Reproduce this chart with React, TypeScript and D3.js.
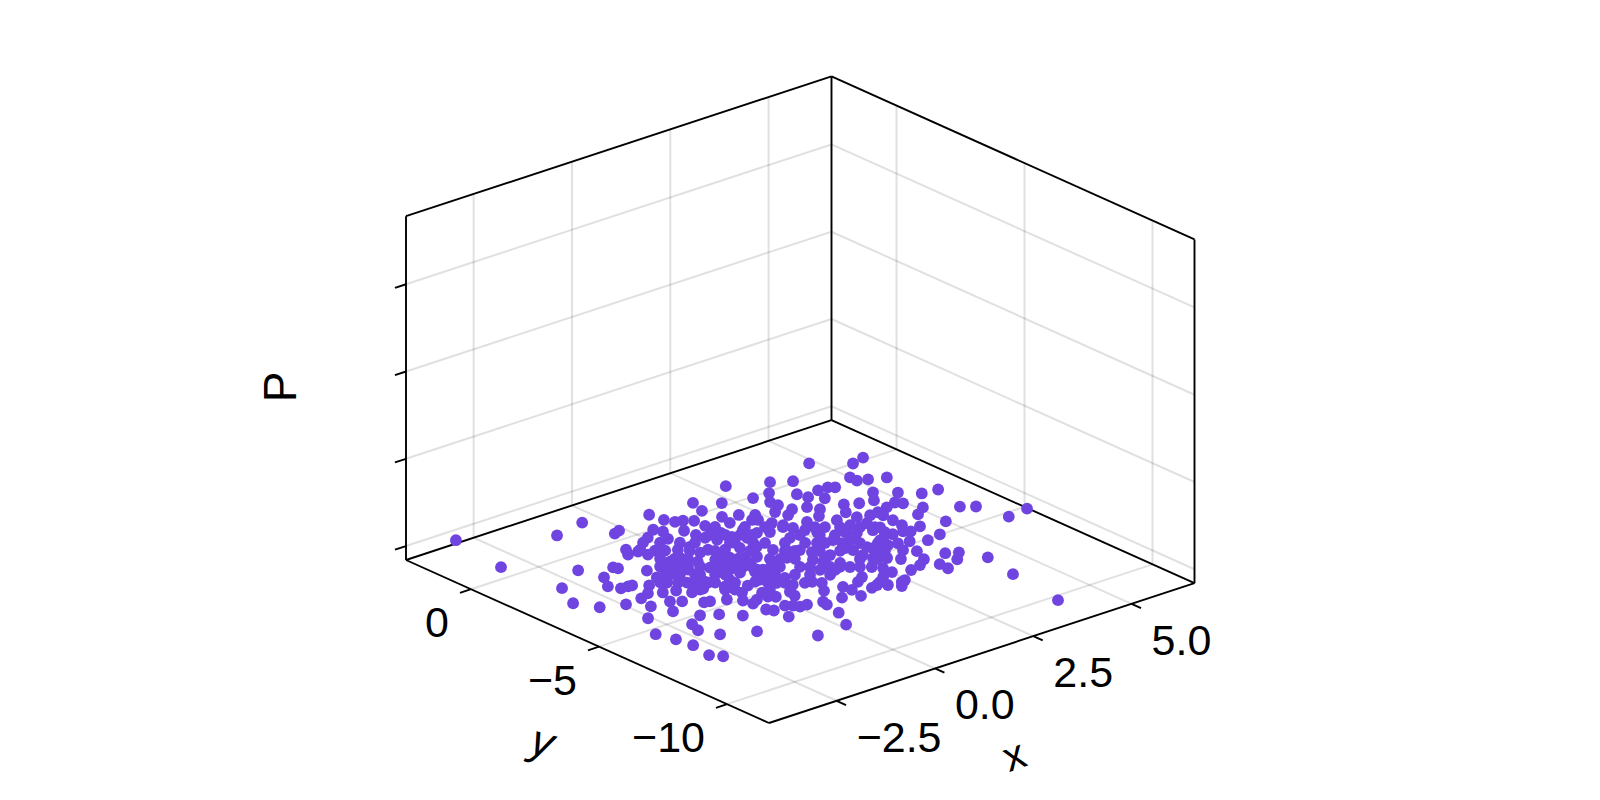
import { useEffect, useRef } from 'react';
import * as d3 from 'd3';

const xTicks = [-2.5, 0, 2.5, 5];
const yTicks = [0, -5, -10];
const zTicks = [0, 1, 2, 3];
const xTickLabels = ['−2.5', '0.0', '2.5', '5.0'];
const yTickLabels = ['0', '−5', '−10'];

// axis limits
const xLimits = [-4.22, 6.6];
const yLimits = [-11.64, 2.54];
const zLimits = [-0.16, 3.78];

const xValues = [
  -2.84, -3.06, -1.2, -0.41, -0.29, -0.13, -2.03, -2.85, -3.18, -2.92,
  -1.88, -2.12, -1.42, -1.38, -1.99, -1.82, -1.73, -2.44, -2.02, -0.65,
  -0.78, -0.54, -0.17, 0.06, -0.49, -1.03, -1.48, -1.76, -2.14, -2.57,
  0.83, 2.89, 2.9, 1.86, 2.28, 1.73, 1.83, 2.14, 1.75, 0.88,
  0.98, 1.13, 1.29, 1.29, 0.82, 0.4, 0.48, 0.32, -0.44, -0.11,
  0.11, 0.86, 0.9, 1.29, 1.01, 1.32, 1.71, 2.17, 1.51, 2.26,
  0.38, 0.55, 0.8, 1.08, 1.44, -0.4, -0.12, 0.01, 0.33, 0.61,
  0.83, 1.04, -0.55, -0.3, -0.01, 0.24, 0.51, 0.62, -2.98, -2.85,
  -2.79, -2.88, -2.71, -2.04, -1.4, -0.64, -2.23, -2.12, -1.71, -1.4,
  -1.09, -0.45, -1.98, -1.52, -1.7, -1.23, -1.11, -0.8, -0.55, -0.47,
  -0.15, -0.03, 0.04, 0.21, 0.54, 0.5, -0.55, -0.6, -0.06, -0.1,
  -0.36, 0.01, 0.32, 0.38, 0.89, 1.03, 1.14, -1.51, -1.25, -1.08,
  -0.79, -0.41, -0.35, -0.04, -1.11, -1.12, -0.83, -0.96, -0.52, 0.35,
  0.48, 0.76, 0.65, -0.54, -0.39, -0.38, -0.54, -0.11, 0.22, 0.27,
  0.52, 0.7, 0.87, 0.33, 1.05, 1.34, 1.54, 1.84, 0.74, 4.86,
  5.84, 5.5, 5.0, 5.0, 5.2, 3.67, 4.04, 3.3, 3.02, 3.67,
  3.74, 4.11, 4.35, 4.46, 3.95, 3.4, 3.52, 3.28, 4.85, 4.6,
  4.03, 3.8, 4.29, 3.8, 4.06, 4.27, 3.04, 2.77, 3.11, 2.86,
  2.38, 2.91, 3.01, 3.41, 3.44, 3.75, 2.36, 2.04, 2.46, 2.51,
  2.62, 2.73, 3.14, 3.28, 3.61, 1.82, 2.14, 1.36, 1.5, 1.44,
  1.89, 2.37, 2.7, 2.95, 2.97, 3.34, 3.55, 2.67, 2.65, 2.17,
  1.76, 2.06, 2.07, 2.91, 2.39, 2.52, 2.52, 1.92, 1.7, 0.77,
  0.2, 0.91, 1.32, 1.35, 0.95, 1.29, 1.71, 2.02, 2.04, 2.21,
  0.41, 0.13, 5.54, 5.21, 5.53, 5.9, 4.84, 4.93, 4.56, 5.09,
  4.79, 5.66, 5.9, 6.58, 6.05, 4.97, 4.43, 4.23, 4.2, 4.02,
  4.13, 4.25, 3.74, 3.72, 3.77, 4.46, 4.09, 3.79, 3.03, 3.4,
  3.57, 3.92, 4.15, 3.9, 4.41, 3.08, 3.41, 3.16, 3.48, 3.47,
  4.23, 2.87, 2.7, 2.23, 2.45, 2.34, 1.88, 4.04,
  // dense middle of the cloud, single dots can't be told apart there
  1.4, 1.84, 2.13, 2.39, 2.86, 3.23, 3.52, 3.81,
  1.07, 1.29, 1.51, 1.68, 2.38, 2.67, 2.89, 3.19, 3.62,
  0.08, 0.37, 0.59, 1.1, 1.61, 1.9, 2.2, 2.49, 2.74, 3.0, 3.26,
  -0.26, 0.25, 0.62, 1.13, 1.64, 1.79, 2.15, 2.45, 2.96, 3.1,
  -0.44, -0.23, -0.04, 0.46, 0.7, 1.16, 1.31, 1.53, 1.97, 2.48, 2.74,
  -0.7, -0.41, -0.12, 0.17, 0.39, 0.64, 0.98, 1.49, 1.78, 1.93, 2.22,
  -0.89, -0.67, -0.45, -0.16, -0.01, 0.57, 0.72, 1.01, 1.23, 1.52,
  -1.22, -0.71, -0.42, -0.13, 0.6,
  -0.87, -0.5, -0.36, 0.15,
  1.17, 1.68, 2.62, 1.76, 2.0, 3.39, 0.34, -0.82,
];

const yValues = [
  2.71, 0.61, 1.28, 1.51, 0.42, 0.5, -0.82, -1.45, -2.39, -3.03,
  -1.6, -2.12, -1.25, -1.38, -2.43, -2.45, -2.47, -3.32, -3.27, -0.57,
  -0.85, -0.87, -0.5, -0.33, -1.18, -1.97, -2.75, -3.13, -3.83, -4.38,
  0.8, 0.97, -0.08, 0.67, 0.19, 0.12, -0.51, -0.69, -0.94, 0.3,
  0.02, -0.06, -0.25, -0.68, -0.58, -0.02, -0.28, -0.72, -0.8, -1.27,
  -1.43, -0.98, -1.28, -1.3, -1.58, -1.68, -1.51, -1.16, -1.98, -1.26,
  -1.48, -1.93, -2.21, -2.36, -2.33, -1.9, -1.86, -2.36, -2.55, -2.69,
  -2.94, -3.09, -2.25, -2.45, -2.86, -3.14, -3.36, -3.74, -5.31, -5.9,
  -6.48, -7.24, -7.53, -6.38, -6.84, -8.05, -5.81, -5.41, -5.09, -5.36,
  -5.81, -6.62, -4.45, -4.1, -3.9, -4.51, -4.56, -4.74, -5.89, -6.07,
  -6.01, -6.14, -6.31, -6.32, -6.44, -6.65, -5.38, -5.06, -4.98, -5.27,
  -5.24, -5.41, -5.67, -5.39, -5.19, -5.26, -5.47, -3.33, -3.45, -3.81,
  -3.8, -4.06, -4.64, -4.39, -2.48, -2.9, -3.23, -3.08, -3.58, -4.58,
  -4.72, -4.61, -5.09, -2.0, -2.6, -3.05, -3.48, -3.79, -3.29, -3.61,
  -3.81, -3.84, -3.86, -4.29, -3.97, -4.31, -4.79, -4.44, -3.28, 0.74,
  0.14, 0.01, -0.64, -0.91, -1.04, 0.44, 0.11, -0.09, -0.56, -0.61,
  -0.94, -0.76, -0.77, -0.89, -1.27, -1.42, -1.74, -2.07, -1.77, -2.19,
  -1.89, -2.32, -2.09, -2.75, -2.87, -2.85, -0.84, -1.14, -1.28, -1.51,
  -0.96, -2.17, -2.72, -2.57, -3.04, -3.22, -1.64, -2.06, -1.93, -2.24,
  -2.54, -2.84, -3.31, -3.55, -3.67, -1.89, -2.69, -2.59, -3.01, -3.64,
  -3.46, -3.39, -3.51, -3.79, -4.42, -4.67, -4.74, -4.34, -4.75, -4.21,
  -4.17, -4.77, -5.14, -5.3, -5.5, -5.74, -6.09, -5.84, -6.02, -4.09,
  -4.31, -5.91, -6.02, -6.32, -6.55, -6.77, -6.55, -6.39, -6.67, -6.95,
  -7.25, -7.97, -1.25, -2.19, -2.63, -2.7, -2.64, -2.82, -2.75, -3.35,
  -3.62, -3.92, -4.18, -5.13, -5.23, -4.43, -4.25, -3.5, -3.9, -4.22,
  -4.35, -3.09, -3.55, -3.97, -4.2, -4.98, -5.08, -4.83, -4.57, -5.17,
  -5.45, -6.02, -6.2, -6.52, -6.93, -5.58, -5.97, -6.2, -6.48, -6.82,
  -8.19, -6.3, -5.07, -6.19, -6.7, -6.75, -6.49, -10.24,
  // dense middle of the cloud
  -0.9, -1.39, -1.73, -2.03, -2.56, -2.97, -3.3, -3.64,
  -1.21, -1.46, -1.71, -1.91, -2.71, -3.04, -3.29, -3.62, -4.12,
  -0.78, -1.11, -1.36, -1.94, -2.53, -2.86, -3.19, -3.52, -3.81, -4.1, -4.4,
  -1.1, -1.68, -2.1, -2.68, -3.26, -3.42, -3.84, -4.17, -4.75, -4.92,
  -1.58, -1.83, -2.05, -2.61, -2.88, -3.41, -3.58, -3.82, -4.32, -4.9, -5.2,
  -1.98, -2.31, -2.65, -2.98, -3.23, -3.51, -3.89, -4.47, -4.81, -4.97, -5.3,
  -2.47, -2.71, -2.96, -3.3, -3.46, -4.13, -4.29, -4.62, -4.87, -5.21,
  -2.78, -3.36, -3.7, -4.03, -4.86,
  -3.8, -4.21, -4.38, -4.96,
  -2.03, -3.39, -4.11, -5.04, -3.76, -4.29, -1.95, -2.55,
];

// where the box sits on the page: front bottom corner plus one vector per axis
const corner = { x: 769, y: 723 };
const xEnd = { x: 425.5, y: -139.8 };
const yEnd = { x: -363, y: -163 };
const zEnd = { x: 0, y: -343.8 };

export default function App() {
  const svgRef = useRef<SVGSVGElement | null>(null);

  useEffect(() => {
    if (!svgRef.current) return;
    const svg = d3.select(svgRef.current);
    svg.selectAll('*').remove();

    const xt = d3.scaleLinear().domain(xLimits).range([0, 1]);
    const yt = d3.scaleLinear().domain(yLimits).range([0, 1]);
    const zt = d3.scaleLinear().domain(zLimits).range([0, 1]);

    const project = (x: number, y: number, z: number): [number, number] => {
      const a = xt(x), b = yt(y), c = zt(z);
      return [
        corner.x + a * xEnd.x + b * yEnd.x + c * zEnd.x,
        corner.y + a * xEnd.y + b * yEnd.y + c * zEnd.y,
      ];
    };

    const [x0, x1] = xLimits;
    const [y0, y1] = yLimits;
    const [z0, z1] = zLimits;
    const line = d3.line();

    const seg = (g: any, from: [number, number], to: [number, number], stroke: string, width: number) =>
      g.append('path')
        .attr('d', line([from, to]))
        .attr('fill', 'none')
        .attr('stroke', stroke)
        .attr('stroke-width', width);

    // grid
    const grid = svg.append('g');
    const gridColor = 'rgba(0,0,0,0.12)';
    xTicks.forEach(t => {
      seg(grid, project(t, y0, z0), project(t, y1, z0), gridColor, 2);
      seg(grid, project(t, y1, z0), project(t, y1, z1), gridColor, 2);
    });
    yTicks.forEach(t => {
      seg(grid, project(x0, t, z0), project(x1, t, z0), gridColor, 2);
      seg(grid, project(x1, t, z0), project(x1, t, z1), gridColor, 2);
    });
    zTicks.forEach(t => {
      seg(grid, project(x0, y1, t), project(x1, y1, t), gridColor, 2);
      seg(grid, project(x1, y1, t), project(x1, y0, t), gridColor, 2);
    });

    // box frame
    const frame = svg.append('g');
    const edges: [number, number, number, number, number, number][] = [
      [x0, y0, z0, x1, y0, z0],
      [x0, y0, z0, x0, y1, z0],
      [x0, y1, z0, x1, y1, z0],
      [x1, y1, z0, x1, y0, z0],
      [x0, y1, z0, x0, y1, z1],
      [x1, y1, z0, x1, y1, z1],
      [x1, y0, z0, x1, y0, z1],
      [x0, y1, z1, x1, y1, z1],
      [x1, y1, z1, x1, y0, z1],
    ];
    edges.forEach(e => seg(frame, project(e[0], e[1], e[2]), project(e[3], e[4], e[5]), '#000', 1.9));

    // tick marks, each points away from the box along the other floor axis
    const tickLen = 0.026;
    xTicks.forEach(t => {
      seg(frame, project(t, y0, z0), project(t, y0 - tickLen * (y1 - y0), z0), '#000', 1.9);
    });
    yTicks.forEach(t => {
      seg(frame, project(x0, t, z0), project(x0 - tickLen * (x1 - x0), t, z0), '#000', 1.9);
    });
    zTicks.forEach(t => {
      seg(frame, project(x0, y1, t), project(x0 - tickLen * (x1 - x0), y1, t), '#000', 1.9);
    });

    // points
    svg.append('g')
      .selectAll('circle')
      .data(xValues.map((x, i) => [x, yValues[i]]))
      .join('circle')
      .attr('cx', d => project(d[0], d[1], z0)[0])
      .attr('cy', d => project(d[0], d[1], z0)[1])
      .attr('r', 5.9)
      .attr('fill', '#7044e0');

    // labels
    const labels = svg.append('g')
      .attr('font-family', '"Liberation Sans", sans-serif')
      .attr('font-size', 43)
      .attr('fill', '#000');

    xTicks.forEach((t, i) => {
      const [px, py] = project(t, y0, z0);
      labels.append('text')
        .attr('x', px + 20)
        .attr('y', py + 36)
        .attr('dominant-baseline', 'central')
        .text(xTickLabels[i]);
    });
    yTicks.forEach((t, i) => {
      const [px, py] = project(x0, t, z0);
      labels.append('text')
        .attr('x', px - 22)
        .attr('y', py + 33)
        .attr('text-anchor', 'end')
        .attr('dominant-baseline', 'central')
        .text(yTickLabels[i]);
    });

    labels.append('text')
      .attr('transform', 'translate(1014,755) rotate(-20)')
      .attr('text-anchor', 'middle')
      .attr('dominant-baseline', 'central')
      .attr('font-size', 42)
      .text('x');
    labels.append('text')
      .attr('transform', 'translate(543,741) rotate(15)')
      .attr('text-anchor', 'middle')
      .attr('dominant-baseline', 'central')
      .attr('font-size', 44)
      .attr('font-style', 'italic')
      .text('y');
    labels.append('text')
      .attr('transform', 'translate(280,387) rotate(-90)')
      .attr('text-anchor', 'middle')
      .attr('dominant-baseline', 'central')
      .attr('font-size', 46)
      .text('P');
  }, []);

  return (
    <svg
      ref={svgRef}
      width={1600}
      height={800}
      style={{ position: 'absolute', left: 0, top: 0, background: '#fff' }}
    />
  );
}
